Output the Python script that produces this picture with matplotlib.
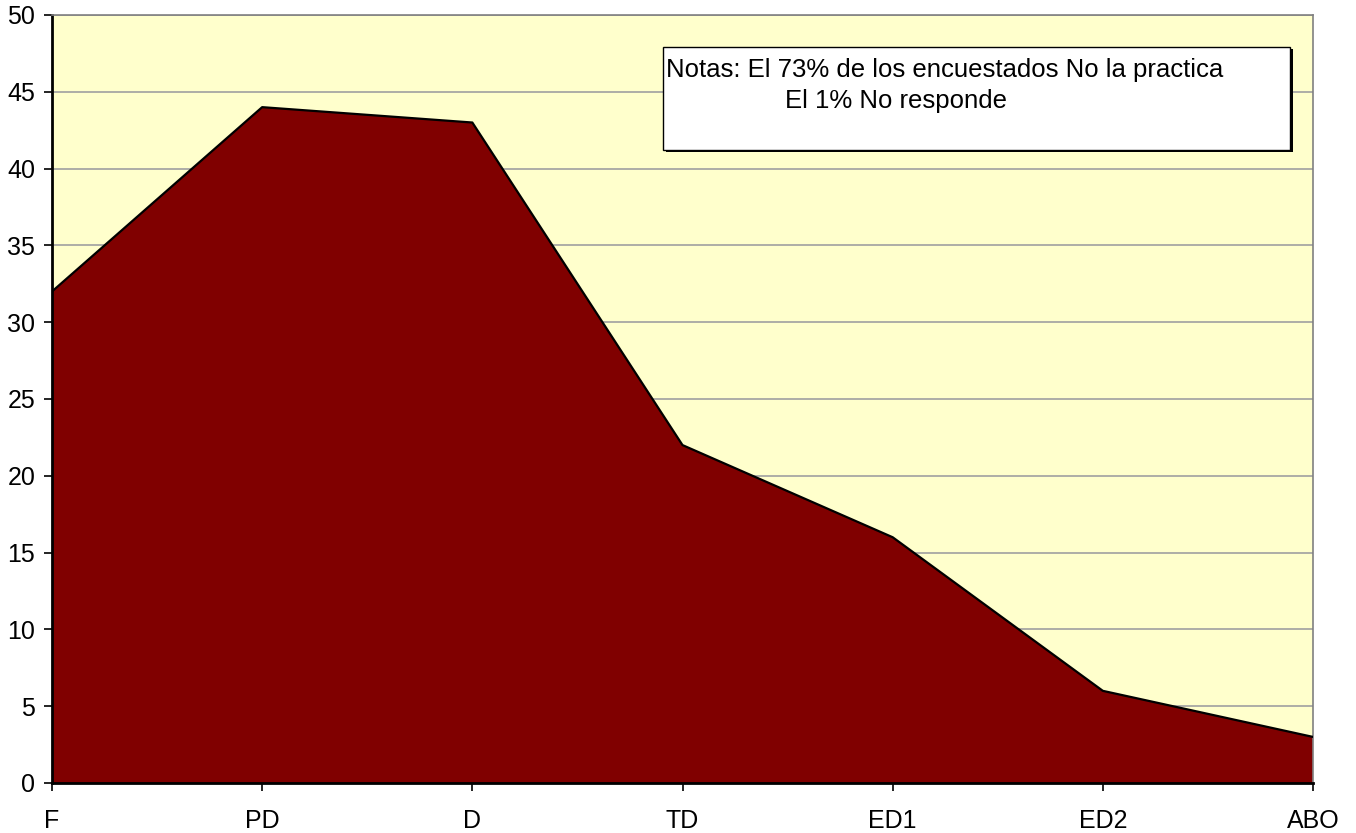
import numpy as np
import matplotlib.pyplot as plt
from matplotlib.patches import Rectangle

# Data
categories = ['F', 'PD', 'D', 'TD', 'ED1', 'ED2', 'ABO']
values = [32, 44, 43, 22, 16, 6, 3]
y_ticks = list(range(0, 51, 5))

plt.rcParams['font.family'] = ['Liberation Sans', 'DejaVu Sans']

fig = plt.figure(figsize=(13.56, 8.33), dpi=100)
ax = fig.add_axes([52 / 1356, 1 - 783 / 833, (1313 - 52) / 1356, (783 - 15) / 833])

x = np.arange(len(categories))
ax.set_facecolor('#FFFFCC')

# gridlines
for yv in y_ticks[1:]:
    ax.axhline(yv, color='#A0A0A0', linewidth=1.2, zorder=1)

ax.fill_between(x, values, 0, facecolor='#800000', edgecolor='none', zorder=2)
ax.plot(x, values, color='black', linewidth=1.6, zorder=3)

ax.set_xlim(0, len(categories) - 1)
ax.set_ylim(0, 50)
ax.set_xticks(x)
ax.set_xticklabels(categories)
ax.set_yticks(y_ticks)
ax.tick_params(axis='both', labelsize=18, direction='out', length=6, width=1.2, color='black')
ax.tick_params(axis='x', pad=13)
ax.tick_params(axis='y', pad=6)

for side in ['top', 'right']:
    ax.spines[side].set_color('#808080')
    ax.spines[side].set_linewidth(1.2)
for side in ['left', 'bottom']:
    ax.spines[side].set_color('black')
    ax.spines[side].set_linewidth(2)

# notes box with shadow
bx0, by0, bw, bh = 663 / 1356, 1 - 150 / 833, (1290 - 663) / 1356, (150 - 47) / 833
fig.patches.append(Rectangle((bx0 + 0.002, by0 - 0.003), bw, bh, transform=fig.transFigure,
                             facecolor='black', edgecolor='none', zorder=5))
fig.patches.append(Rectangle((bx0, by0), bw, bh, transform=fig.transFigure,
                             facecolor='white', edgecolor='black', linewidth=1, zorder=6))
fig.text(666 / 1356, 1 - 70 / 833, 'Notas: El 73% de los encuestados No la practica',
         fontsize=18.5, va='center', ha='left', zorder=7)
fig.text(785 / 1356, 1 - 101 / 833, 'El 1% No responde',
         fontsize=18.5, va='center', ha='left', zorder=7)

fig.savefig('out.png', dpi=100)
